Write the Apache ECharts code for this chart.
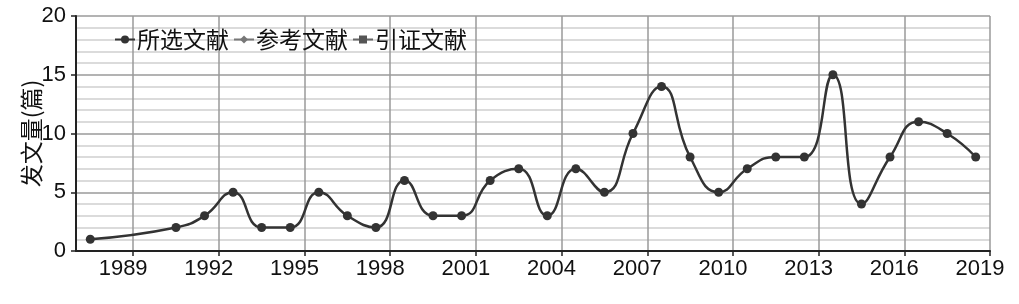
<!DOCTYPE html>
<html>
<head>
<meta charset="utf-8">
<script src="https://cdn.jsdelivr.net/npm/echarts@6/dist/echarts.min.js"></script>
<style>
html,body{margin:0;padding:0;background:#fff;}
#c{width:1019px;height:304px;}
</style>
</head>
<body>
<div id="c"></div>
<script>
// x positions (mid-year) and values of 所选文献
const years = [1987.5, 1990.5, 1991.5, 1992.5, 1993.5, 1994.5, 1995.5, 1996.5, 1997.5, 1998.5,
  1999.5, 2000.5, 2001.5, 2002.5, 2003.5, 2004.5, 2005.5, 2006.5, 2007.5, 2008.5,
  2009.5, 2010.5, 2011.5, 2012.5, 2013.5, 2014.5, 2015.5, 2016.5, 2017.5, 2018.5];
const selected = [1, 2, 3, 5, 2, 2, 5, 3, 2, 6,
  3, 3, 6, 7, 3, 7, 5, 10, 14, 8,
  5, 7, 8, 8, 15, 4, 8, 11, 10, 8];
const reference = [];
const citing = [];
const seriesNames = ['所选文献', '参考文献', '引证文献'];
const tickYears = [1989, 1992, 1995, 1998, 2001, 2004, 2007, 2010, 2013, 2016, 2019];
const yearStart = 1987, yearEnd = 2019;

const axisYears = [];
for (let y = yearStart; y <= yearEnd; y++) axisYears.push(String(y));
const isTick = (i, v) => tickYears.indexOf(Number(v)) >= 0;

const chart = echarts.init(document.getElementById('c'), null, {renderer: 'canvas'});
const font = '"Liberation Sans", Arial, "Noto Sans CJK SC", sans-serif';
const cjk = '"Noto Sans CJK SC", sans-serif';
chart.setOption({
  animation: false,
  backgroundColor: '#fff',
  textStyle: {fontFamily: font},
  grid: {left: 76, right: 29, top: 16, bottom: 53},
  legend: {
    left: 109, top: 23,
    itemWidth: 20, itemHeight: 10, itemGap: 4,
    textStyle: {fontSize: 23, color: '#111', fontFamily: cjk, padding: [0, 0, 0, -3]},
    data: seriesNames
  },
  xAxis: [
    {type: 'value', min: yearStart, max: yearEnd, show: false},
    {
      type: 'category', data: axisYears, boundaryGap: false, position: 'bottom',
      axisLine: {lineStyle: {color: '#222', width: 2}},
      axisTick: {show: true, length: 5, interval: isTick, lineStyle: {color: '#222', width: 1.5}},
      axisLabel: {interval: isTick, fontSize: 22, color: '#111', margin: 7, padding: [0, 20, 0, 0]},
      splitLine: {show: true, interval: isTick, lineStyle: {color: '#9a9a9a', width: 1.5}}
    }
  ],
  yAxis: {
    type: 'value', min: 0, max: 20, interval: 5,
    name: '发文量(篇)', nameLocation: 'middle', nameRotate: 90, nameGap: 33,
    nameMoveOverlap: false,
    nameTextStyle: {fontSize: 23, color: '#111', fontFamily: cjk},
    axisLine: {show: true, lineStyle: {color: '#222', width: 2}},
    axisTick: {show: true, length: 5, lineStyle: {color: '#222', width: 1.5}},
    axisLabel: {fontSize: 22, color: '#111', margin: 10},
    splitLine: {show: true, lineStyle: {color: '#9a9a9a', width: 1.5}},
    minorTick: {show: false, splitNumber: 5},
    minorSplitLine: {show: true, lineStyle: {color: '#cfcfcf', width: 1.5}}
  },
  series: [
    {
      name: seriesNames[0], type: 'line', xAxisIndex: 0, smooth: 0.5,
      data: years.map((x, i) => [x, selected[i]]),
      symbol: 'circle', symbolSize: 9,
      lineStyle: {color: '#333', width: 2.5},
      itemStyle: {color: '#333'}
    },
    {
      name: seriesNames[1], type: 'line', xAxisIndex: 0, data: reference,
      symbol: 'diamond', symbolSize: 7,
      lineStyle: {color: '#777', width: 2}, itemStyle: {color: '#777'}
    },
    {
      name: seriesNames[2], type: 'line', xAxisIndex: 0, data: citing,
      symbol: 'rect', symbolSize: 8,
      lineStyle: {color: '#666', width: 2}, itemStyle: {color: '#555'}
    }
  ]
});
</script>
</body>
</html>
